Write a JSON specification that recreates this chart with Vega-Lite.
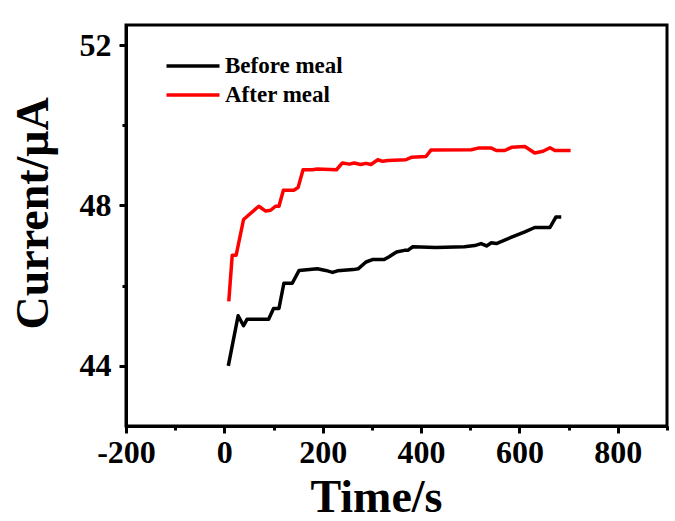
{
  "$schema": "https://vega.github.io/schema/vega-lite/v6.json",
  "autosize": "none",
  "width": 541,
  "height": 401,
  "padding": {"left": 126, "top": 25, "right": 8, "bottom": 95},
  "background": "white",
  "config": {
    "view": {"stroke": "black", "strokeWidth": 3},
    "axis": {
      "grid": false,
      "domainColor": "black",
      "domainWidth": 3,
      "tickColor": "black",
      "tickWidth": 3,
      "labelFont": "Liberation Serif",
      "labelFontWeight": "bold",
      "labelFontSize": 32,
      "labelColor": "black",
      "labelFlush": false,
      "labelOverlap": false,
      "labelBound": false,
      "titleFont": "Liberation Serif",
      "titleFontWeight": "bold",
      "titleFontSize": 46,
      "titleColor": "black"
    }
  },
  "data": {
    "values": [
      {"series": "Before meal", "t": 8, "current": 44.0},
      {"series": "Before meal", "t": 28, "current": 45.25},
      {"series": "Before meal", "t": 39, "current": 45.0},
      {"series": "Before meal", "t": 46, "current": 45.16},
      {"series": "Before meal", "t": 90, "current": 45.16},
      {"series": "Before meal", "t": 100, "current": 45.43},
      {"series": "Before meal", "t": 111, "current": 45.43},
      {"series": "Before meal", "t": 121, "current": 46.06},
      {"series": "Before meal", "t": 138, "current": 46.06},
      {"series": "Before meal", "t": 152, "current": 46.38},
      {"series": "Before meal", "t": 189, "current": 46.42},
      {"series": "Before meal", "t": 206, "current": 46.38},
      {"series": "Before meal", "t": 220, "current": 46.33},
      {"series": "Before meal", "t": 230, "current": 46.37},
      {"series": "Before meal", "t": 262, "current": 46.4},
      {"series": "Before meal", "t": 272, "current": 46.42},
      {"series": "Before meal", "t": 288, "current": 46.59},
      {"series": "Before meal", "t": 301, "current": 46.65},
      {"series": "Before meal", "t": 325, "current": 46.65},
      {"series": "Before meal", "t": 335, "current": 46.72},
      {"series": "Before meal", "t": 350, "current": 46.84},
      {"series": "Before meal", "t": 366, "current": 46.88},
      {"series": "Before meal", "t": 373, "current": 46.88},
      {"series": "Before meal", "t": 383, "current": 46.97},
      {"series": "Before meal", "t": 430, "current": 46.95},
      {"series": "Before meal", "t": 488, "current": 46.97},
      {"series": "Before meal", "t": 509, "current": 47.0},
      {"series": "Before meal", "t": 522, "current": 47.05},
      {"series": "Before meal", "t": 533, "current": 46.99},
      {"series": "Before meal", "t": 543, "current": 47.07},
      {"series": "Before meal", "t": 553, "current": 47.05},
      {"series": "Before meal", "t": 584, "current": 47.21},
      {"series": "Before meal", "t": 611, "current": 47.34},
      {"series": "Before meal", "t": 631, "current": 47.45},
      {"series": "Before meal", "t": 662, "current": 47.45},
      {"series": "Before meal", "t": 674, "current": 47.71},
      {"series": "Before meal", "t": 685, "current": 47.71},
      {"series": "After meal", "t": 9, "current": 45.61},
      {"series": "After meal", "t": 16, "current": 46.76},
      {"series": "After meal", "t": 24, "current": 46.76},
      {"series": "After meal", "t": 39, "current": 47.65},
      {"series": "After meal", "t": 53, "current": 47.8},
      {"series": "After meal", "t": 70, "current": 47.98},
      {"series": "After meal", "t": 84, "current": 47.86},
      {"series": "After meal", "t": 94, "current": 47.88},
      {"series": "After meal", "t": 104, "current": 47.98},
      {"series": "After meal", "t": 111, "current": 47.98},
      {"series": "After meal", "t": 120, "current": 48.38},
      {"series": "After meal", "t": 141, "current": 48.38},
      {"series": "After meal", "t": 150, "current": 48.45},
      {"series": "After meal", "t": 160, "current": 48.89},
      {"series": "After meal", "t": 179, "current": 48.89},
      {"series": "After meal", "t": 189, "current": 48.91},
      {"series": "After meal", "t": 228, "current": 48.89},
      {"series": "After meal", "t": 240, "current": 49.06},
      {"series": "After meal", "t": 254, "current": 49.03},
      {"series": "After meal", "t": 264, "current": 49.06},
      {"series": "After meal", "t": 277, "current": 49.02},
      {"series": "After meal", "t": 288, "current": 49.05},
      {"series": "After meal", "t": 298, "current": 49.02},
      {"series": "After meal", "t": 312, "current": 49.14},
      {"series": "After meal", "t": 322, "current": 49.1},
      {"series": "After meal", "t": 332, "current": 49.12},
      {"series": "After meal", "t": 369, "current": 49.14},
      {"series": "After meal", "t": 380, "current": 49.2},
      {"series": "After meal", "t": 410, "current": 49.22},
      {"series": "After meal", "t": 420, "current": 49.38},
      {"series": "After meal", "t": 502, "current": 49.39},
      {"series": "After meal", "t": 516, "current": 49.43},
      {"series": "After meal", "t": 543, "current": 49.43},
      {"series": "After meal", "t": 553, "current": 49.37},
      {"series": "After meal", "t": 570, "current": 49.37},
      {"series": "After meal", "t": 584, "current": 49.45},
      {"series": "After meal", "t": 611, "current": 49.47},
      {"series": "After meal", "t": 631, "current": 49.31},
      {"series": "After meal", "t": 648, "current": 49.35},
      {"series": "After meal", "t": 662, "current": 49.44},
      {"series": "After meal", "t": 672, "current": 49.37},
      {"series": "After meal", "t": 704, "current": 49.37}
    ]
  },
  "mark": {"type": "line", "strokeWidth": 3.5, "strokeJoin": "round"},
  "encoding": {
    "x": {
      "field": "t",
      "type": "quantitative",
      "scale": {"domain": [-200, 900], "nice": false, "zero": false},
      "axis": {
        "title": "Time/s",
        "values": [-200, -100, 0, 100, 200, 300, 400, 500, 600, 700, 800, 900],
        "labelExpr": "datum.value % 200 === 0 ? '' + datum.value : ''",
        "tickSize": {"condition": {"test": "datum.value % 200 === 0", "value": 7}, "value": 4},
        "labelPadding": 4,
        "titleX": 250,
        "titleY": 85,
        "titleAlign": "center",
        "titleBaseline": "alphabetic"
      }
    },
    "y": {
      "field": "current",
      "type": "quantitative",
      "scale": {"domain": [42.5, 52.5], "nice": false, "zero": false},
      "axis": {
        "title": "Current/μA",
        "values": [44, 46, 48, 50, 52],
        "labelExpr": "datum.value % 4 === 0 ? '' + datum.value : ''",
        "tickSize": {"condition": {"test": "datum.value % 4 === 0", "value": 7}, "value": 4},
        "labelPadding": 8,
        "titleX": -79,
        "titleY": 188,
        "titleAngle": -90,
        "titleAlign": "center",
        "titleBaseline": "alphabetic"
      }
    },
    "color": {
      "field": "series",
      "type": "nominal",
      "scale": {"domain": ["Before meal", "After meal"], "range": ["#000000", "#ff0000"]},
      "legend": {
        "title": null,
        "orient": "none",
        "legendX": 52,
        "legendY": 26,
        "padding": 0,
        "symbolType": "M-2,0H2",
        "symbolSize": 702,
        "symbolStrokeWidth": 3.5,
        "symbolFillColor": "transparent",
        "labelFont": "Liberation Serif",
        "labelFontWeight": "bold",
        "labelFontSize": 23,
        "labelColor": "black",
        "labelOffset": 17,
        "rowPadding": 2
      }
    }
  }
}
